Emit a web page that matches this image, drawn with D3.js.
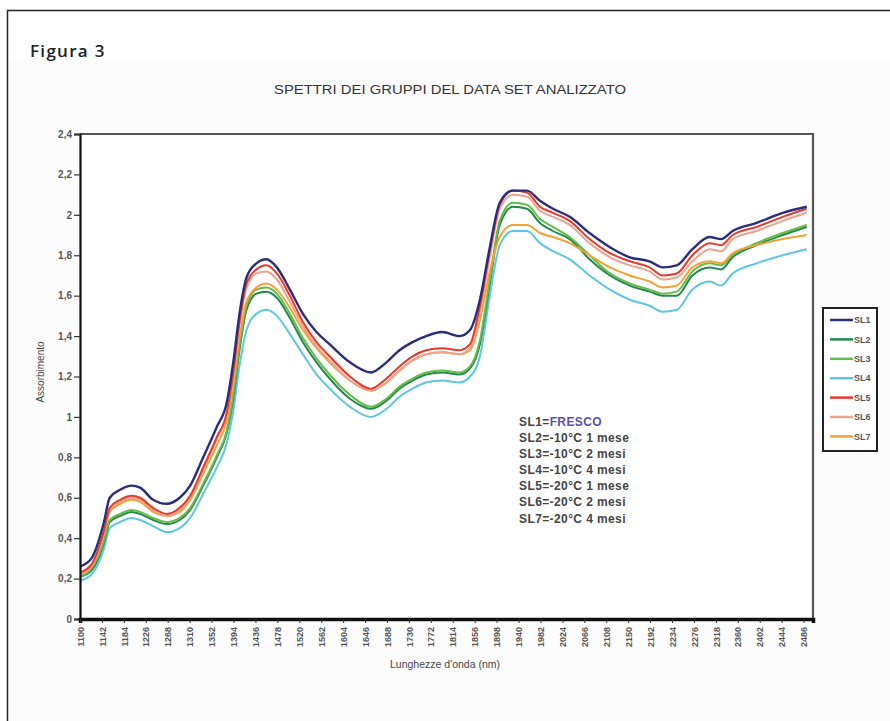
<!DOCTYPE html>
<html>
<head>
<meta charset="utf-8">
<script src="https://cdn.jsdelivr.net/npm/d3@7"></script>
<style>
body { margin: 0; background: #fff; }
svg { display: block; font-family: "Liberation Sans", Arial, sans-serif; }
</style>
</head>
<body>
<div id="chart"></div>
<script>
// Wavelengths (nm) at which the spectra were read
var wavelengths = [1100, 1122, 1145, 1157, 1177, 1199, 1215, 1240, 1266, 1291, 1311, 1336, 1362, 1381, 1393, 1406, 1419, 1438, 1457, 1477,
    1502, 1527, 1553, 1578, 1617, 1657, 1687, 1712, 1737, 1763, 1794, 1827, 1847, 1866, 1885, 1904, 1929, 1956, 1981, 2006,
    2038, 2076, 2115, 2153, 2191, 2216, 2243, 2273, 2306, 2328, 2350, 2396, 2446, 2492];

var sl1 = [0.26, 0.30, 0.47, 0.60, 0.64, 0.66, 0.65, 0.59, 0.57, 0.60, 0.66, 0.80, 0.95, 1.07, 1.26, 1.52, 1.69, 1.76, 1.78, 1.74,
    1.63, 1.51, 1.42, 1.36, 1.27, 1.22, 1.27, 1.33, 1.37, 1.40, 1.42, 1.40, 1.43, 1.58, 1.84, 2.06, 2.12, 2.12, 2.07, 2.03,
    1.99, 1.91, 1.84, 1.79, 1.77, 1.74, 1.75, 1.83, 1.89, 1.88, 1.92, 1.96, 2.01, 2.04];
var sl2 = [0.21, 0.24, 0.37, 0.48, 0.51, 0.53, 0.52, 0.49, 0.47, 0.49, 0.54, 0.66, 0.80, 0.92, 1.08, 1.34, 1.53, 1.61, 1.62, 1.59,
    1.49, 1.37, 1.27, 1.19, 1.09, 1.04, 1.08, 1.14, 1.18, 1.21, 1.22, 1.21, 1.24, 1.36, 1.66, 1.95, 2.04, 2.03, 1.96, 1.92,
    1.88, 1.78, 1.70, 1.65, 1.62, 1.60, 1.60, 1.70, 1.74, 1.73, 1.79, 1.85, 1.90, 1.94];
var sl3 = [0.21, 0.25, 0.38, 0.49, 0.52, 0.54, 0.53, 0.50, 0.48, 0.50, 0.55, 0.67, 0.81, 0.93, 1.10, 1.36, 1.55, 1.63, 1.64, 1.61,
    1.51, 1.39, 1.29, 1.21, 1.11, 1.05, 1.09, 1.15, 1.19, 1.22, 1.23, 1.22, 1.25, 1.38, 1.68, 1.97, 2.06, 2.05, 1.98, 1.94,
    1.89, 1.80, 1.71, 1.66, 1.63, 1.61, 1.62, 1.72, 1.76, 1.75, 1.80, 1.86, 1.91, 1.95];
var sl4 = [0.19, 0.22, 0.34, 0.45, 0.48, 0.50, 0.49, 0.46, 0.43, 0.45, 0.50, 0.62, 0.75, 0.87, 1.02, 1.26, 1.43, 1.51, 1.53, 1.50,
    1.41, 1.31, 1.21, 1.14, 1.05, 1.00, 1.04, 1.10, 1.14, 1.17, 1.18, 1.17, 1.20, 1.30, 1.60, 1.85, 1.92, 1.92, 1.86, 1.82,
    1.78, 1.70, 1.63, 1.58, 1.55, 1.52, 1.53, 1.63, 1.67, 1.65, 1.71, 1.76, 1.80, 1.83];
var sl5 = [0.23, 0.27, 0.43, 0.55, 0.59, 0.61, 0.60, 0.55, 0.52, 0.55, 0.61, 0.75, 0.90, 1.02, 1.21, 1.48, 1.66, 1.73, 1.75, 1.71,
    1.60, 1.47, 1.37, 1.30, 1.20, 1.14, 1.19, 1.25, 1.30, 1.33, 1.34, 1.33, 1.36, 1.55, 1.82, 2.05, 2.12, 2.11, 2.04, 2.01,
    1.97, 1.88, 1.81, 1.77, 1.74, 1.70, 1.71, 1.80, 1.86, 1.85, 1.90, 1.94, 1.99, 2.03];
var sl6 = [0.22, 0.26, 0.42, 0.54, 0.58, 0.60, 0.59, 0.54, 0.51, 0.54, 0.60, 0.74, 0.89, 1.01, 1.19, 1.46, 1.64, 1.71, 1.72, 1.68,
    1.57, 1.45, 1.35, 1.28, 1.18, 1.13, 1.17, 1.23, 1.28, 1.31, 1.32, 1.31, 1.34, 1.52, 1.79, 2.03, 2.10, 2.09, 2.02, 1.99,
    1.95, 1.86, 1.79, 1.75, 1.72, 1.68, 1.69, 1.77, 1.83, 1.82, 1.88, 1.92, 1.97, 2.01];
var sl7 = [0.22, 0.26, 0.41, 0.53, 0.57, 0.59, 0.58, 0.53, 0.51, 0.53, 0.59, 0.72, 0.86, 0.98, 1.15, 1.40, 1.57, 1.64, 1.66, 1.63,
    1.54, 1.43, 1.34, 1.27, 1.18, 1.13, 1.17, 1.23, 1.28, 1.31, 1.32, 1.31, 1.33, 1.48, 1.72, 1.89, 1.95, 1.95, 1.91, 1.89,
    1.86, 1.80, 1.74, 1.70, 1.67, 1.64, 1.65, 1.74, 1.77, 1.76, 1.81, 1.85, 1.88, 1.90];

var seriesNames = ["SL1", "SL2", "SL3", "SL4", "SL5", "SL6", "SL7"];
var seriesColors = ["#2b2d7c", "#1f8a4c", "#66bb4a", "#5ec6e4", "#e53a2c", "#f0a28c", "#f3a235"];
var seriesValues = [sl1, sl2, sl3, sl4, sl5, sl6, sl7];

var xTicks = d3.range(1100, 2487, 42);
var yTicks = [0, 0.2, 0.4, 0.6, 0.8, 1, 1.2, 1.4, 1.6, 1.8, 2, 2.2, 2.4];

var notes = ["SL2=-10°C 1 mese", "SL3=-10°C 2 mesi", "SL4=-10°C 4 mesi",
    "SL5=-20°C 1 mese", "SL6=-20°C 2 mesi", "SL7=-20°C 4 mesi"];

//Canvas
var width = 890, height = 721;
var plot = {left: 80, right: 813, top: 134, bottom: 619};

var svg = d3.select("#chart")
    .append("svg")
    .attr("width", width)
    .attr("height", height);

svg.append("rect")
    .attr("x", 8).attr("y", 60)
    .attr("width", width - 8).attr("height", height - 60)
    .style("fill", "#fcfcfc");

//Outer frame (top and left only)
svg.append("path")
    .attr("d", "M7.5," + height + "V10.5H" + width)
    .style("fill", "none")
    .style("stroke", "#222")
    .style("stroke-width", 1.5);

svg.append("text")
    .attr("x", 30).attr("y", 57)
    .style("font-family", "'Open Sans', sans-serif")
    .style("font-weight", 600)
    .style("font-size", "17px")
    .style("letter-spacing", "1.3px")
    .style("fill", "#222")
    .text("Figura 3");

svg.append("text")
    .attr("x", 450).attr("y", 94)
    .attr("text-anchor", "middle")
    .attr("textLength", 352)
    .attr("lengthAdjust", "spacingAndGlyphs")
    .style("font-size", "12.5px")
    .style("fill", "#333")
    .text("SPETTRI DEI GRUPPI DEL DATA SET ANALIZZATO");

//Scales
var x = d3.scaleLinear()
    .domain([1100, 2504])
    .range([plot.left, plot.right]);

var y = d3.scaleLinear()
    .domain([0, 2.4])
    .range([plot.bottom, plot.top]);

svg.append("rect")
    .attr("x", plot.left).attr("y", plot.top)
    .attr("width", plot.right - plot.left)
    .attr("height", plot.bottom - plot.top)
    .style("fill", "#fff");

//Frame top / right
svg.append("path")
    .attr("d", "M" + plot.left + "," + plot.top + "H" + plot.right + "V" + plot.bottom)
    .style("fill", "none")
    .style("stroke", "#555")
    .style("stroke-width", 2.2);

//Lines
var line = d3.line()
    .x(function(d, i) { return x(wavelengths[i]); })
    .y(function(d) { return y(d); })
    .curve(d3.curveMonotoneX);

var order = [3, 1, 2, 6, 5, 4, 0];
svg.append("g")
    .selectAll("path")
    .data(order)
    .enter()
    .append("path")
    .attr("d", function(k) { return line(seriesValues[k]); })
    .style("fill", "none")
    .style("stroke", function(k) { return seriesColors[k]; })
    .style("stroke-width", function(k) { return k == 0 ? 2.4 : 2; })
    .style("stroke-linejoin", "round");

//Axes
var fmt = function(d) { return d3.format("~g")(d).replace(".", ","); };

var yAxis = svg.append("g")
    .attr("transform", "translate(" + plot.left + ",0)")
    .call(d3.axisLeft(y).tickValues(yTicks).tickSize(6).tickFormat(fmt));
yAxis.select(".domain").style("stroke", "#111").style("stroke-width", 2.2);
yAxis.selectAll(".tick line").style("stroke", "#333").style("stroke-width", 1.2);
yAxis.selectAll("text")
    .attr("x", -8)
    .style("font-size", "10px")
    .style("font-weight", "bold")
    .style("fill", "#555");

var xAxis = svg.append("g")
    .attr("transform", "translate(0," + plot.bottom + ")")
    .call(d3.axisBottom(x).tickValues(xTicks).tickSize(4).tickFormat(d3.format("d")));
xAxis.select(".domain").style("stroke", "#111").style("stroke-width", 3.5);
xAxis.selectAll(".tick line").style("stroke", "#333");
xAxis.selectAll("text")
    .attr("transform", "rotate(-90)")
    .attr("x", -8).attr("y", 0).attr("dy", "0.35em")
    .attr("text-anchor", "end")
    .style("font-size", "9px")
    .style("font-weight", "bold")
    .style("fill", "#555");

svg.append("text")
    .attr("x", 445).attr("y", 668)
    .attr("text-anchor", "middle")
    .style("font-size", "10.5px")
    .style("fill", "#444")
    .text("Lunghezze d'onda (nm)");

svg.append("text")
    .attr("transform", "translate(44,372) rotate(-90)")
    .attr("text-anchor", "middle")
    .style("font-size", "10px")
    .style("fill", "#444")
    .text("Assorbimento");

//Legend
var legend = svg.append("g").attr("transform", "translate(823,308)");
legend.append("rect")
    .attr("width", 54).attr("height", 143)
    .style("fill", "#fff")
    .style("stroke", "#222")
    .style("stroke-width", 2);

var items = legend.selectAll("g.item")
    .data(seriesNames)
    .enter()
    .append("g")
    .attr("class", "item")
    .attr("transform", function(d, i) { return "translate(0," + (12 + i * 19.4) + ")"; });
items.append("line")
    .attr("x1", 7).attr("x2", 30)
    .style("stroke", function(d, i) { return seriesColors[i]; })
    .style("stroke-width", 2.5);
items.append("text")
    .attr("x", 31).attr("dy", "0.35em")
    .style("font-size", "9px")
    .style("font-weight", "bold")
    .style("fill", "#555")
    .text(function(d) { return d; });

//Notes
var noteG = svg.append("g")
    .style("font-size", "12px")
    .style("font-weight", "bold")
    .style("letter-spacing", "0.4px")
    .style("fill", "#444");
var first = noteG.append("text").attr("x", 519).attr("y", 426);
first.append("tspan").text("SL1=");
first.append("tspan").style("fill", "#5a4fb0").text("FRESCO");
noteG.selectAll("text.n")
    .data(notes)
    .enter()
    .append("text")
    .attr("class", "n")
    .attr("x", 519)
    .attr("y", function(d, i) { return 442 + i * 16.1; })
    .text(function(d) { return d; });
</script>
</body>
</html>
